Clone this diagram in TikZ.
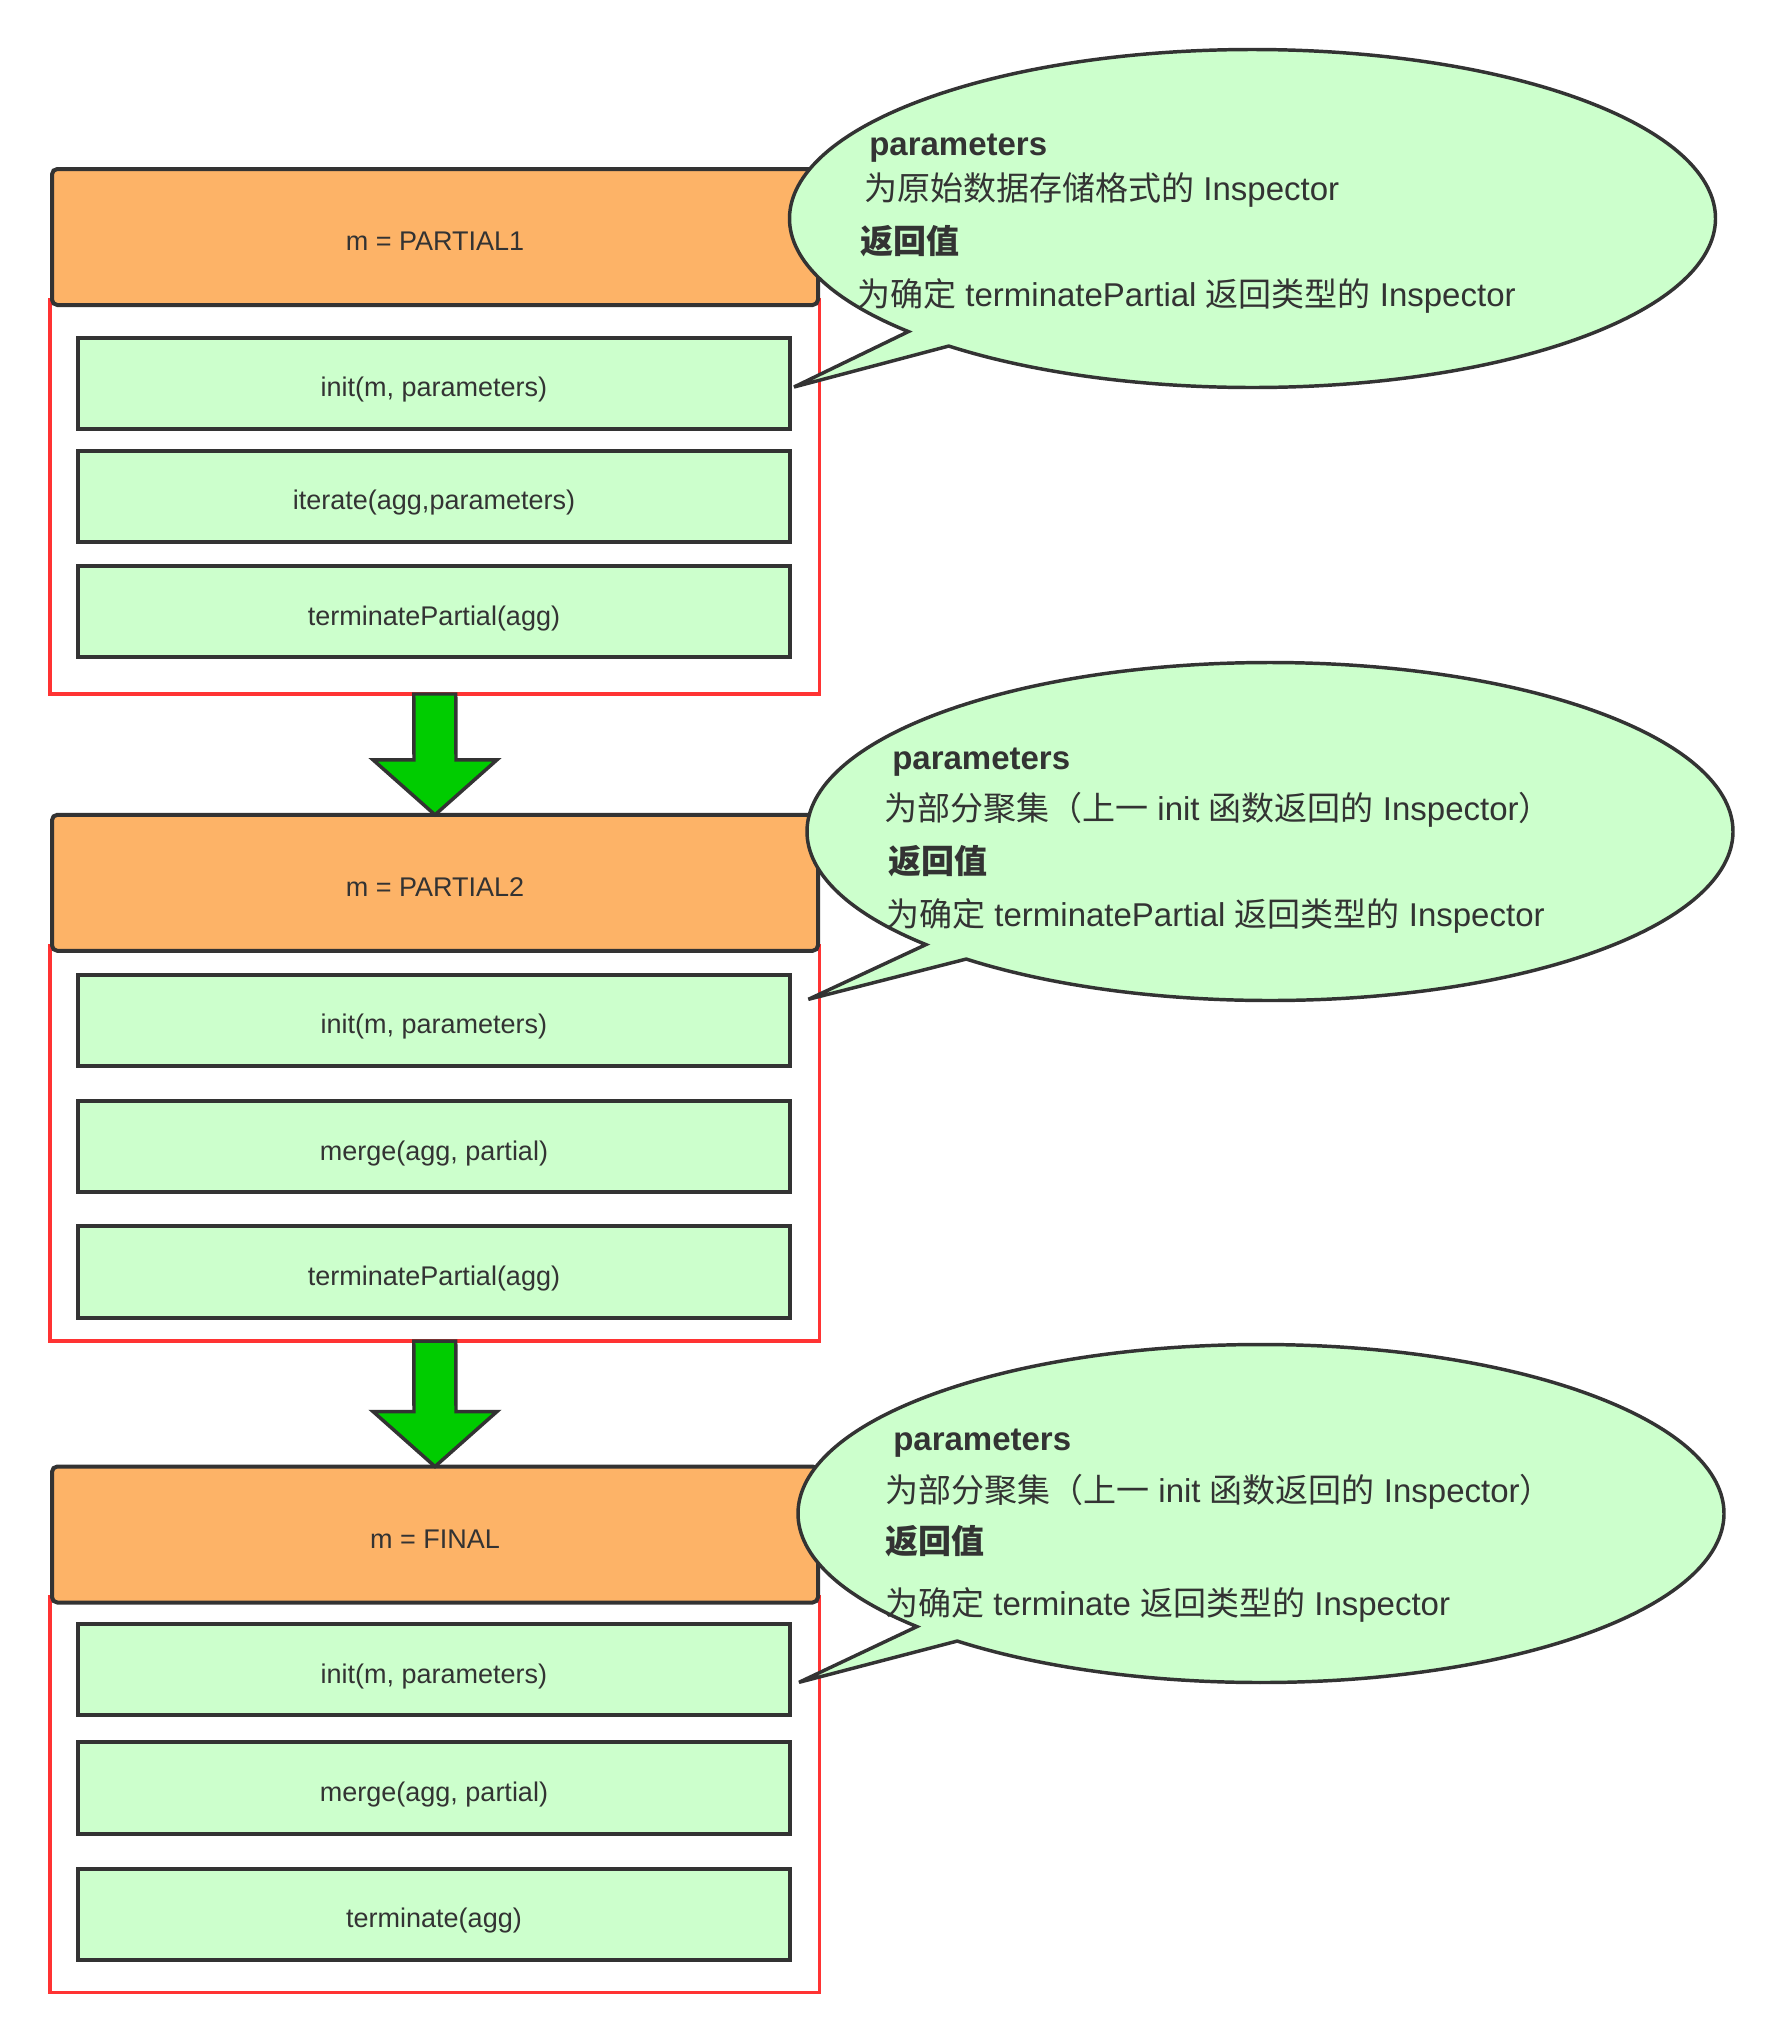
\documentclass[tikz,border=0pt]{standalone}
\usepackage{fontspec}
\setmainfont{Liberation Sans}
\newfontfamily\cjk{Noto Sans CJK SC}
\usetikzlibrary{calc}
\definecolor{ink}{HTML}{333333}
\definecolor{hdrfill}{HTML}{FDB367}
\definecolor{paleg}{HTML}{CCFFCC}
\definecolor{arrowg}{HTML}{00CC00}
\definecolor{framered}{HTML}{FF3333}
\newcommand\zh[1]{{\cjk #1}}
\newcommand\boxfont{\fontsize{20.25}{24}\selectfont}
\newcommand\notefont{\fontsize{24.75}{30}\selectfont}

\begin{document}
\begin{tikzpicture}[x=0.75pt,y=-0.75pt,
  frame/.style={draw=framered, line width=2.4pt, outer sep=0pt,
    minimum width=577pt, inner sep=0pt},
  header/.style={draw=ink, fill=hdrfill, line width=3pt, rounded corners=4pt,
    outer sep=0pt, inner sep=0pt, minimum width=574.5pt, minimum height=102pt,
    text=ink, font=\boxfont, text height=20.3pt, text depth=0pt},
  func/.style={draw=ink, fill=paleg, line width=3pt, outer sep=0pt, inner sep=0pt,
    minimum width=534pt, minimum height=68.5pt, text=ink, font=\boxfont,
    text height=20.3pt, text depth=0pt},
  bubble/.style={draw=ink, fill=paleg, line width=2.6pt},
  note/.style={anchor=base west, inner sep=0pt, text=ink, font=\notefont},
  blockarrow/.style={draw=ink, fill=arrowg, line width=2.6pt},
]
% page
\fill[white] (0,0) rectangle (1784,2043);
\useasboundingbox (0,0) rectangle (1784,2043);

% ---------- stage 1: PARTIAL1 ----------
\node[frame, minimum height=295.5pt] (f1) at (434.75,497) {};
\node[header] (h1) at (435,237) {m = PARTIAL1};
\node[func] (a1) at (434,383.4) {init(m, parameters)};
\node[func] (a2) at (434,496.3) {iterate(agg,parameters)};
\node[func] (a3) at (434,611.7) {terminatePartial(agg)};

% ---------- stage 2: PARTIAL2 ----------
\node[frame, minimum height=296.25pt] (f2) at (434.75,1143.5) {};
\node[header] (h2) at (435,882.8) {m = PARTIAL2};
\node[func] (b1) at (434,1020.4) {init(m, parameters)};
\node[func] (b2) at (434,1146.8) {merge(agg, partial)};
\node[func] (b3) at (434,1271.9) {terminatePartial(agg)};

% ---------- stage 3: FINAL ----------
\node[frame, minimum height=296.6pt] (f3) at (434.75,1794.75) {};
\node[header] (h3) at (435,1534.5) {m = FINAL};
\node[func] (c1) at (434,1669.7) {init(m, parameters)};
\node[func] (c2) at (434,1788) {merge(agg, partial)};
\node[func] (c3) at (434,1914.4) {terminate(agg)};

% ---------- block arrows between stages ----------
\draw[blockarrow] ($(f1.south)+(-21,0)$) -- ($(h2.north)+(-21,-55)$)
  -- ($(h2.north)+(-62,-55)$) -- (h2.north) -- ($(h2.north)+(62,-55)$)
  -- ($(h2.north)+(21,-55)$) -- ($(f1.south)+(21,0)$) -- cycle;
\draw[blockarrow] ($(f2.south)+(-21,0)$) -- ($(h3.north)+(-21,-55)$)
  -- ($(h3.north)+(-62,-55)$) -- (h3.north) -- ($(h3.north)+(62,-55)$)
  -- ($(h3.north)+(21,-55)$) -- ($(f2.south)+(21,0)$) -- cycle;

% ---------- callout bubbles ----------
\coordinate (o1) at (1252.5,218.5);
\coordinate (p1) at (794,387);
\draw[bubble] (o1) ++(138:463 and 169)
  arc[start angle=138, end angle=491, x radius=463, y radius=169] -- (p1) -- cycle;
\node[note] (n11) at (869,155) {\textbf{parameters}};
\node[note] (n12) at (864,200) {\zh{为原始数据存储格式的} Inspector};
\node[note] (n13) at (860,253) {\zh{\bfseries 返回值}};
\node[note] (n14) at (857,306.7) {\zh{为确定} terminatePartial \zh{返回类型的} Inspector};

\coordinate (o2) at (1270,831.5);
\coordinate (p2) at (808.4,999.3);
\draw[bubble] (o2) ++(138:463 and 169)
  arc[start angle=138, end angle=491, x radius=463, y radius=169] -- (p2) -- cycle;
\node[note] (n21) at (892,769) {\textbf{parameters}};
\node[note] (n22) at (884,820) {\zh{为部分聚集（上一} init \zh{函数返回的} Inspector\zh{）}};
\node[note] (n23) at (888,873) {\zh{\bfseries 返回值}};
\node[note] (n24) at (886,926.7) {\zh{为确定} terminatePartial \zh{返回类型的} Inspector};

\coordinate (o3) at (1261,1513.5);
\coordinate (p3) at (799,1682.3);
\draw[bubble] (o3) ++(138:463 and 169)
  arc[start angle=138, end angle=491, x radius=463, y radius=169] -- (p3) -- cycle;
\node[note] (n31) at (893,1450) {\textbf{parameters}};
\node[note] (n32) at (885,1502.7) {\zh{为部分聚集（上一} init \zh{函数返回的} Inspector\zh{）}};
\node[note] (n33) at (885,1553) {\zh{\bfseries 返回值}};
\node[note] (n34) at (885,1615) {\zh{为确定} terminate \zh{返回类型的} Inspector};
\end{tikzpicture}
\end{document}
